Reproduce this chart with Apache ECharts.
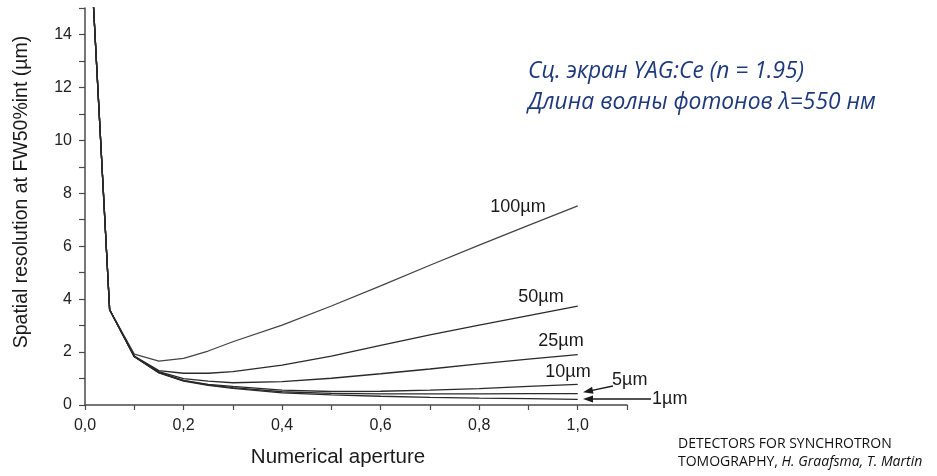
<!DOCTYPE html>
<html>
<head>
<meta charset="utf-8">
<script src="https://cdn.jsdelivr.net/npm/echarts@6/dist/echarts.min.js"></script>
<style>
  html, body { margin: 0; padding: 0; background: #fff; }
  #chart { width: 937px; height: 476px; }
</style>
</head>
<body>
<div id="chart"></div>
<script>
const apertures = [0.01, 0.05, 0.1, 0.15, 0.2, 0.25, 0.3, 0.4, 0.5, 0.6, 0.7, 0.8, 0.9, 1.0];

const res100 = [17.6, 3.6, 1.92, 1.66, 1.76, 2.04, 2.39, 3.02, 3.74, 4.5, 5.28, 6.04, 6.79, 7.52];
const res50 = [17.6, 3.6, 1.85, 1.3, 1.2, 1.2, 1.26, 1.51, 1.85, 2.25, 2.65, 3.02, 3.38, 3.74];
const res25 = [17.6, 3.6, 1.83, 1.26, 1.0, 0.9, 0.84, 0.88, 1.01, 1.18, 1.36, 1.55, 1.73, 1.9];
const res10 = [17.6, 3.6, 1.83, 1.23, 0.93, 0.78, 0.7, 0.56, 0.51, 0.52, 0.56, 0.62, 0.7, 0.78];
const res5 = [17.6, 3.6, 1.83, 1.22, 0.92, 0.76, 0.66, 0.5, 0.44, 0.42, 0.42, 0.42, 0.43, 0.43];
const res1 = [17.6, 3.6, 1.82, 1.21, 0.9, 0.74, 0.63, 0.46, 0.38, 0.33, 0.29, 0.26, 0.24, 0.21];

const seriesNames = ['100µm', '50µm', '25µm', '10µm', '5µm', '1µm'];
const seriesValues = [res100, res50, res25, res10, res5, res1];

const chart = echarts.init(document.getElementById('chart'));

const axisColor = '#4a4a4a';
const labelFont = '18px "Liberation Sans", Arial, sans-serif';

function arrowHead(tip, from, len, half) {
  const dx = tip[0] - from[0], dy = tip[1] - from[1];
  const d = Math.sqrt(dx * dx + dy * dy);
  const ux = dx / d, uy = dy / d;
  const bx = tip[0] - ux * len, by = tip[1] - uy * len;
  return [tip, [bx - uy * half, by + ux * half], [bx + uy * half, by - ux * half]];
}

const arrow5From = [613, 386], arrow5Tip = [583, 392.3];
const arrow1From = [651, 399], arrow1Tip = [583, 399];

const option = {
  animation: false,
  grid: { left: 85, top: 8, right: 310, bottom: 71 },
  xAxis: {
    type: 'value',
    min: 0,
    max: 1.1,
    interval: 0.1,
    axisLine: { lineStyle: { color: axisColor, width: 1.5 } },
    axisTick: { length: 5, lineStyle: { color: axisColor, width: 1.2 } },
    splitLine: { show: false },
    axisLabel: {
      margin: 13,
      color: '#222',
      fontSize: 16,
      fontFamily: '"Liberation Sans", Arial, sans-serif',
      formatter: function (v) {
        const k = Math.round(v * 10);
        if (k % 2 !== 0 || k > 10) return '';
        return (k / 10).toFixed(1).replace('.', ',');
      }
    }
  },
  yAxis: {
    type: 'value',
    min: 0,
    max: 15,
    interval: 1,
    axisLine: { show: true, lineStyle: { color: axisColor, width: 1.5 } },
    axisTick: { show: true, length: 6, lineStyle: { color: axisColor, width: 1.2 } },
    splitLine: { show: false },
    axisLabel: {
      margin: 13,
      color: '#222',
      fontSize: 16,
      fontFamily: '"Liberation Sans", Arial, sans-serif',
      formatter: function (v) {
        const k = Math.round(v);
        if (k % 2 !== 0 || k > 14) return '';
        return String(k);
      }
    }
  },
  series: seriesValues.map(function (vals, i) {
    return {
      name: seriesNames[i],
      type: 'line',
      showSymbol: false,
      clip: true,
      data: apertures.map(function (a, j) { return [a, vals[j]]; }),
      lineStyle: { color: i === 0 ? '#444' : '#2a2a2a', width: 1.3 }
    };
  }),
  graphic: [
    {
      type: 'text', x: 22, y: 192, rotation: Math.PI / 2,
      style: { text: 'Spatial resolution at FW50%int (µm)', font: '19.5px "Liberation Sans", Arial, sans-serif', fill: '#1a1a1a', textAlign: 'center', textVerticalAlign: 'middle' }
    },
    {
      type: 'text', x: 338, y: 457,
      style: { text: 'Numerical aperture', font: '20.5px "Liberation Sans", Arial, sans-serif', fill: '#1a1a1a', textAlign: 'center', textVerticalAlign: 'middle' }
    },
    { type: 'text', x: 518, y: 207, style: { text: '100µm', font: labelFont, fill: '#1a1a1a', textAlign: 'center', textVerticalAlign: 'middle' } },
    { type: 'text', x: 541, y: 297, style: { text: '50µm', font: labelFont, fill: '#1a1a1a', textAlign: 'center', textVerticalAlign: 'middle' } },
    { type: 'text', x: 561, y: 341, style: { text: '25µm', font: labelFont, fill: '#1a1a1a', textAlign: 'center', textVerticalAlign: 'middle' } },
    { type: 'text', x: 568, y: 372, style: { text: '10µm', font: labelFont, fill: '#1a1a1a', textAlign: 'center', textVerticalAlign: 'middle' } },
    { type: 'text', x: 612, y: 380, style: { text: '5µm', font: labelFont, fill: '#1a1a1a', textAlign: 'left', textVerticalAlign: 'middle' } },
    { type: 'text', x: 652, y: 399, style: { text: '1µm', font: labelFont, fill: '#1a1a1a', textAlign: 'left', textVerticalAlign: 'middle' } },
    {
      type: 'line',
      shape: { x1: arrow5From[0], y1: arrow5From[1], x2: arrow5Tip[0] + 8, y2: arrow5Tip[1] - 1.7 },
      style: { stroke: '#1a1a1a', lineWidth: 1.3 }
    },
    { type: 'polygon', shape: { points: arrowHead(arrow5Tip, arrow5From, 10, 3.5) }, style: { fill: '#1a1a1a' } },
    {
      type: 'line',
      shape: { x1: arrow1From[0], y1: arrow1From[1], x2: arrow1Tip[0] + 8, y2: arrow1Tip[1] },
      style: { stroke: '#1a1a1a', lineWidth: 1.3 }
    },
    { type: 'polygon', shape: { points: arrowHead(arrow1Tip, arrow1From, 10, 3.5) }, style: { fill: '#1a1a1a' } },
    {
      type: 'text', x: 528, y: 72,
      style: { text: 'Сц. экран YAG:Ce (n = 1.95)', font: 'italic 22.8px "Open Sans", "Noto Sans", sans-serif', fill: '#1f3a7c', textAlign: 'left', textVerticalAlign: 'middle' }
    },
    {
      type: 'text', x: 528, y: 103,
      style: { text: 'Длина волны фотонов λ=550 нм', font: 'italic 22.8px "Open Sans", "Noto Sans", sans-serif', fill: '#1f3a7c', textAlign: 'left', textVerticalAlign: 'middle' }
    },
    {
      type: 'text', x: 678, y: 444,
      style: { text: 'DETECTORS FOR SYNCHROTRON', font: '14px "Open Sans", "Noto Sans", sans-serif', fill: '#111', textAlign: 'left', textVerticalAlign: 'middle' }
    },
    {
      type: 'text', x: 678, y: 462,
      style: {
        text: '{n|TOMOGRAPHY, }{i|H. Graafsma, T. Martin}',
        textAlign: 'left', textVerticalAlign: 'middle',
        rich: {
          n: { font: '14px "Open Sans", "Noto Sans", sans-serif', fill: '#111' },
          i: { font: 'italic 14px "Open Sans", "Noto Sans", sans-serif', fill: '#111' }
        }
      }
    }
  ]
};

chart.setOption(option);
window.addEventListener('resize', () => chart.resize());
</script>
</body>
</html>
